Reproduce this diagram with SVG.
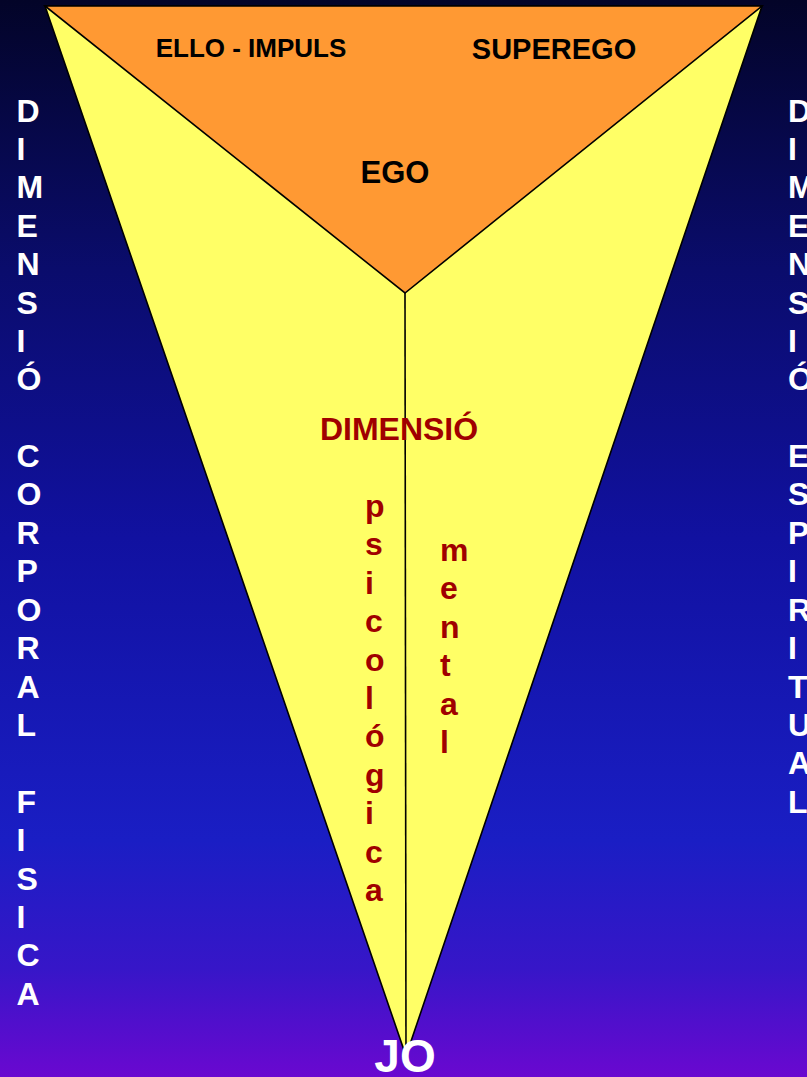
<svg xmlns="http://www.w3.org/2000/svg" width="807" height="1077" viewBox="0 0 807 1077">
<defs>
<linearGradient id="bg" x1="0" y1="0" x2="0" y2="1">
<stop offset="0" stop-color="#030428"/>
<stop offset="0.25" stop-color="#0a0c6c"/>
<stop offset="0.5" stop-color="#1111a0"/>
<stop offset="0.78" stop-color="#1a1ec4"/>
<stop offset="0.9" stop-color="#3716c8"/>
<stop offset="1" stop-color="#6a08d0"/>
</linearGradient>
<style>
.w{font-family:"Liberation Sans",Arial,sans-serif;font-weight:bold;font-size:32px;fill:#ffffff}
.r{font-family:"Liberation Sans",Arial,sans-serif;font-weight:bold;font-size:32px;fill:#a00000}
.k{font-family:"Liberation Sans",Arial,sans-serif;font-weight:bold;fill:#000000}
.jo{font-family:"Liberation Sans",Arial,sans-serif;font-weight:bold;font-size:46px;fill:#ffffff}
.edge{stroke:#000;stroke-width:1.6;stroke-linejoin:miter}
</style>
</defs>
<rect x="0" y="0" width="807" height="1077" fill="url(#bg)"/>
<g id="outer-triangle">
<polygon points="45,6 762,6 406,1056" fill="#ffff66" class="edge"/>
</g>
<g id="top-triangle">
<polygon points="45,6 762,6 405,293" fill="#ff9933" class="edge"/>
<text class="k" x="251" y="57" font-size="26" text-anchor="middle">ELLO - IMPULS</text>
<text class="k" x="554" y="59" font-size="29" text-anchor="middle">SUPEREGO</text>
<text class="k" x="395" y="183" font-size="31" text-anchor="middle">EGO</text>
</g>
<g id="connectors">
<line x1="405" y1="293" x2="406" y2="1056" class="edge"/>
</g>
<g id="dimensio">
<text class="r" x="399" y="440" text-anchor="middle">DIMENSIÓ</text>
</g>
<g id="psicologica">
<text class="r" x="365">
<tspan x="365" y="517">p</tspan><tspan x="365" dy="38.4">s</tspan><tspan x="365" dy="38.4">i</tspan><tspan x="365" dy="38.4">c</tspan><tspan x="365" dy="38.4">o</tspan><tspan x="365" dy="38.4">l</tspan><tspan x="365" dy="38.4">ó</tspan><tspan x="365" dy="38.4">g</tspan><tspan x="365" dy="38.4">i</tspan><tspan x="365" dy="38.4">c</tspan><tspan x="365" dy="38.4">a</tspan>
</text>
</g>
<g id="mental">
<text class="r" x="440">
<tspan x="440" y="561">m</tspan><tspan x="440" dy="38.4">e</tspan><tspan x="440" dy="38.4">n</tspan><tspan x="440" dy="38.4">t</tspan><tspan x="440" dy="38.4">a</tspan><tspan x="440" dy="38.4">l</tspan>
</text>
</g>
<g id="left-column">
<text class="w">
<tspan x="16.5" y="121.5">D</tspan><tspan x="16.5" dy="38.4">I</tspan><tspan x="16.5" dy="38.4">M</tspan><tspan x="16.5" dy="38.4">E</tspan><tspan x="16.5" dy="38.4">N</tspan><tspan x="16.5" dy="38.4">S</tspan><tspan x="16.5" dy="38.4">I</tspan><tspan x="16.5" dy="38.4">Ó</tspan><tspan x="16.5" dy="76.8">C</tspan><tspan x="16.5" dy="38.4">O</tspan><tspan x="16.5" dy="38.4">R</tspan><tspan x="16.5" dy="38.4">P</tspan><tspan x="16.5" dy="38.4">O</tspan><tspan x="16.5" dy="38.4">R</tspan><tspan x="16.5" dy="38.4">A</tspan><tspan x="16.5" dy="38.4">L</tspan><tspan x="16.5" dy="76.8">F</tspan><tspan x="16.5" dy="38.4">I</tspan><tspan x="16.5" dy="38.4">S</tspan><tspan x="16.5" dy="38.4">I</tspan><tspan x="16.5" dy="38.4">C</tspan><tspan x="16.5" dy="38.4">A</tspan>
</text>
</g>
<g id="right-column">
<text class="w">
<tspan x="788" y="121.5">D</tspan><tspan x="788" dy="38.4">I</tspan><tspan x="788" dy="38.4">M</tspan><tspan x="788" dy="38.4">E</tspan><tspan x="788" dy="38.4">N</tspan><tspan x="788" dy="38.4">S</tspan><tspan x="788" dy="38.4">I</tspan><tspan x="788" dy="38.4">Ó</tspan><tspan x="788" dy="76.8">E</tspan><tspan x="788" dy="38.4">S</tspan><tspan x="788" dy="38.4">P</tspan><tspan x="788" dy="38.4">I</tspan><tspan x="788" dy="38.4">R</tspan><tspan x="788" dy="38.4">I</tspan><tspan x="788" dy="38.4">T</tspan><tspan x="788" dy="38.4">U</tspan><tspan x="788" dy="38.4">A</tspan><tspan x="788" dy="38.4">L</tspan>
</text>
</g>
<g id="jo">
<text class="jo" x="405" y="1072" text-anchor="middle">JO</text>
</g>
</svg>
